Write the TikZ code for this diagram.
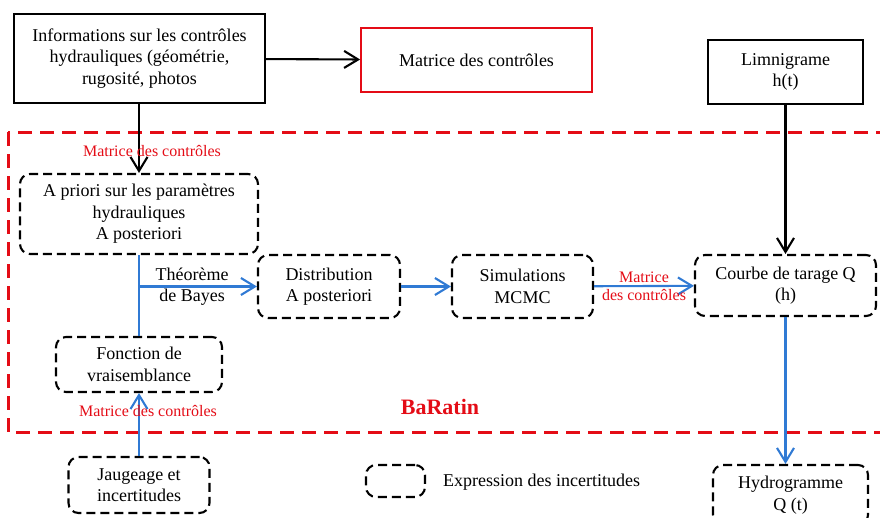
\documentclass[tikz,border=0pt]{standalone}
\usepackage{fontspec}
\setmainfont{Liberation Serif}
\usetikzlibrary{arrows.meta}
\definecolor{BaRed}{RGB}{228,12,22}
\definecolor{BaBlue}{RGB}{48,122,212}

\begin{document}
\begin{tikzpicture}[x=1pt, y=-1pt,
                every node/.style={font=\fontsize{18}{21.6}\selectfont, align=center, inner sep=2pt},
                solidbox/.style={draw, line width=2.1pt},
                unc/.style={draw, line width=2.1pt, dash pattern=on 9pt off 5pt, rounded corners=10pt},
                redlbl/.style={text=BaRed, font=\fontsize{16}{18.5}\selectfont, inner sep=0pt},
                blk/.style={-{Straight Barb[length=14pt,width=17pt]}, line width=2.1pt},
                blu/.style={-{Straight Barb[length=14pt,width=17pt]}, line width=2.1pt, BaBlue}]

                \useasboundingbox (0,0) rectangle (880,517);

                % BaRatin frame
                \draw[BaRed, line width=3pt, dash pattern=on 14pt off 8pt] (8,132) rectangle (886,432);
                \node[text=BaRed, font=\fontsize{22}{26}\selectfont\bfseries] (baratin) at (440,407) {BaRatin};

                % Top row
                \node[solidbox, minimum width=251pt, minimum height=89pt] (info) at (139.5,58.5)
                    {Informations sur les contrôles\\hydrauliques (géométrie,\\rugosité, photos};
                \node[solidbox, draw=BaRed, line width=1.8pt, minimum width=231pt, minimum height=64pt] (mat) at (476.5,60)
                    {Matrice des contrôles};
                \node[solidbox, minimum width=155pt, minimum height=64pt] (limni) at (785.5,72)
                    {Limnigrame\\h(t)};

                % Inside BaRatin
                \node[unc, minimum width=238pt, minimum height=80pt] (prior) at (139,214)
                    {A priori sur les paramètres\\hydrauliques\\A posteriori};
                \node[unc, minimum width=142pt, minimum height=63pt] (distrib) at (329,286.5)
                    {Distribution\\A posteriori};
                \node[unc, minimum width=141pt, minimum height=63pt] (mcmc) at (522.5,286.5)
                    {Simulations\\MCMC};
                \node[unc, minimum width=181pt, minimum height=61pt] (courbe) at (785.5,285.5)
                    {Courbe de tarage Q\\(h)};
                \node[unc, minimum width=166pt, minimum height=55pt] (vrais) at (139,364.5)
                    {Fonction de\\vraisemblance};

                % Bottom row
                \node[unc, minimum width=141pt, minimum height=56pt] (jaug) at (139,485)
                    {Jaugeage et\\incertitudes};
                \node[unc, minimum width=59pt, minimum height=32pt] (legbox) at (395.5,481) {};
                \node[anchor=west, inner sep=0pt] (legtext) at (443,482) {Expression des incertitudes};
                \node[unc, minimum width=155pt, minimum height=60pt] (hydro) at (790.5,495)
                    {Hydrogramme\\Q (t)};

                % Black edges
                \draw[blk] (info) -- (mat);
                \draw[blk] (info.south -| prior) -- node[redlbl, pos=0.68, xshift=13pt] {Matrice des contrôles} (prior.north);
                \draw[blk] (limni.south) -- (limni.south |- courbe.north);

                % Blue edges
                \coordinate (bayes) at (prior.south |- distrib.west);
                \draw[BaBlue, line width=2.1pt] (prior.south) -- (vrais.north);
                \draw[blu] (bayes) -- node[text=black, pos=0.45, inner sep=0pt] {Théorème\\de Bayes} (distrib.west);
                \draw[blu] (distrib) -- (mcmc);
                \draw[blu] (mcmc) -- node[redlbl] {Matrice\\des contrôles} (courbe);
                \draw[blu] (jaug.north) -- node[redlbl, pos=0.72, xshift=9pt] {Matrice des contrôles} (vrais.south);
                \draw[blu] (courbe.south) -- (courbe.south |- hydro.north);
\end{tikzpicture}
\end{document}
